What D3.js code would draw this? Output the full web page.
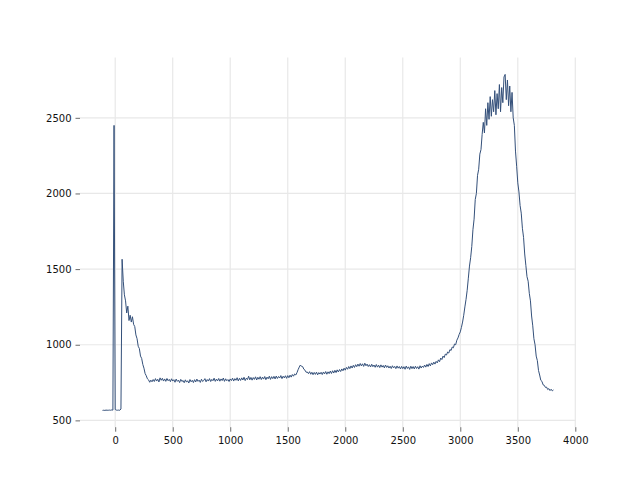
<!DOCTYPE html>
<html>
<head>
<meta charset="utf-8">
<script src="https://cdn.jsdelivr.net/npm/d3@7"></script>
<style>
  html, body { margin: 0; padding: 0; background: #fff; }
  svg { display: block; }
</style>
</head>
<body>
<svg id="chart" width="640" height="480"></svg>
<script>
// Sample grid (x) and signal values (y)
const xStart = -110, xStep = 10;
const yValues = [
  566,567,566,568,567,567,568,567,569,568,
  2450,572,568,567,568,567,575,1565,1420,1330,
  1290,1210,1255,1160,1195,1150,1185,1135,1120,1065,
  1040,990,975,925,910,870,845,810,795,775,
  768,752,766,755,770,757,776,760,772,754,
  781,765,778,760,774,758,777,762,771,756,
  775,760,769,752,773,758,766,750,771,757,
  764,749,768,753,762,747,770,755,765,750,
  769,754,773,758,766,751,772,757,764,776,
  755,770,760,776,757,771,762,779,758,773,
  761,777,759,774,763,780,758,775,762,770,
  757,774,763,779,760,776,765,782,761,778,
  764,781,767,785,763,779,770,792,768,784,
  766,783,771,788,767,785,772,789,770,786,
  773,790,769,786,775,792,771,789,776,791,
  774,793,777,790,780,796,776,792,781,795,
  778,796,782,799,786,803,792,807,800,815,
  835,852,866,857,855,838,832,818,820,809,
  822,805,818,802,817,804,819,801,816,806,
  818,803,820,807,823,805,821,809,826,810,
  828,813,831,816,834,820,836,823,840,828,
  845,832,850,838,856,842,860,846,864,850,
  868,855,872,858,876,860,874,857,878,861,
  872,856,868,853,871,855,866,851,869,852,
  865,849,867,852,863,847,866,850,861,846,
  858,843,861,847,857,842,860,845,856,840,
  857,842,855,838,859,843,854,837,858,842,
  856,840,858,843,855,839,861,846,859,850,
  866,852,870,856,875,860,880,868,885,872,
  890,880,900,888,912,902,925,915,938,932,
  952,945,968,962,985,980,1005,1000,1030,1045,
  1068,1085,1115,1150,1195,1250,1300,1360,1440,1520,
  1575,1650,1760,1830,1960,2000,2120,2160,2260,2290,
  2390,2470,2400,2560,2450,2600,2490,2640,2510,2620,
  2540,2680,2520,2660,2560,2720,2540,2700,2600,2770,
  2787,2620,2750,2580,2710,2540,2668,2500,2450,2280,
  2180,2070,2010,1920,1870,1770,1710,1600,1525,1450,
  1420,1340,1290,1190,1125,1040,1000,925,895,830,
  800,765,758,735,732,718,720,704,710,697,
  706,695,701
];
const xTicks = [0, 500, 1000, 1500, 2000, 2500, 3000, 3500, 4000];
const yTicks = [500, 1000, 1500, 2000, 2500];

const data = yValues.map((v, i) => ({ x: xStart + i * xStep, y: v }));

const W = 640, H = 480;
const m = { left: 80, right: 64, top: 57.6, bottom: 52.8 };
const svg = d3.select("#chart");

function padded(ext) {
  const r = ext[1] - ext[0];
  return [ext[0] - 0.05 * r, ext[1] + 0.05 * r];
}
const x = d3.scaleLinear().domain(padded(d3.extent(data, d => d.x))).range([m.left, W - m.right]);
const y = d3.scaleLinear().domain(padded(d3.extent(data, d => d.y))).range([H - m.bottom, m.top]);

// grid
const g = svg.append("g");
g.selectAll("line.vg").data(xTicks).join("line")
  .attr("x1", d => x(d)).attr("x2", d => x(d))
  .attr("y1", m.top).attr("y2", H - m.bottom)
  .attr("stroke", "#e8e8e8").attr("stroke-width", 1.2);
g.selectAll("line.hg").data(yTicks).join("line")
  .attr("y1", d => y(d)).attr("y2", d => y(d))
  .attr("x1", m.left).attr("x2", W - m.right)
  .attr("stroke", "#e8e8e8").attr("stroke-width", 1.2);

// axes
const xAxis = d3.axisBottom(x).tickValues(xTicks).tickSize(4.5).tickPadding(5).tickFormat(d3.format("d"));
const yAxis = d3.axisLeft(y).tickValues(yTicks).tickSize(4.5).tickPadding(4).tickFormat(d3.format("d"));

const gx = svg.append("g").attr("transform", `translate(0,${H - m.bottom})`).call(xAxis);
const gy = svg.append("g").attr("transform", `translate(${m.left},0)`).call(yAxis);
[gx, gy].forEach(a => {
  a.select(".domain").remove();
  a.selectAll(".tick line").attr("stroke", "#444").attr("stroke-width", 0.8);
  a.selectAll(".tick text").attr("fill", "#111")
    .style("font-family", "DejaVu Sans, sans-serif").style("font-size", "10px");
});

// line
const line = d3.line().x(d => x(d.x)).y(d => y(d.y));
svg.append("path").datum(data)
  .attr("d", line)
  .attr("fill", "none")
  .attr("stroke", "#34507a")
  .attr("stroke-width", 1)
  .attr("stroke-linejoin", "round");
</script>
</body>
</html>
